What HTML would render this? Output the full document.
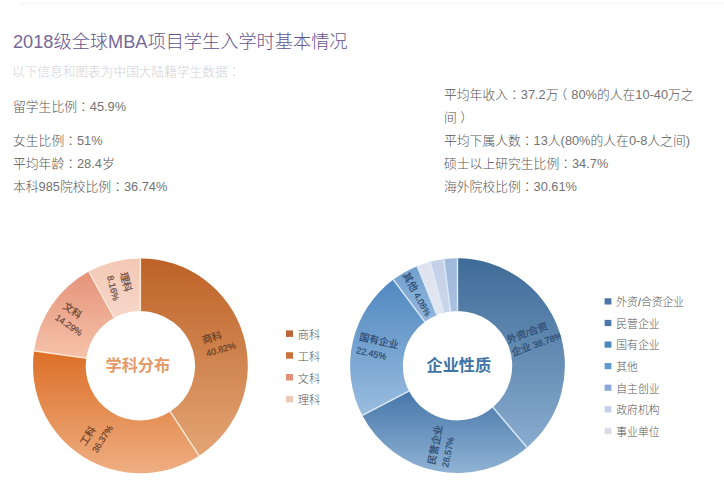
<!DOCTYPE html>
<html><head><meta charset="utf-8"><style>
html,body{margin:0;padding:0;background:#fff;}
body{width:724px;height:500px;overflow:hidden;position:relative;font-family:"Liberation Sans", "Noto Sans CJK SC", sans-serif;color:#555;}
.ch{position:absolute;left:0;top:0;}
.t{position:absolute;left:13px;top:26.6px;font-size:18.2px;color:#64548e;white-space:nowrap;font-weight:300;}
.s{position:absolute;left:12px;top:60.5px;font-size:12.7px;color:#d2d0d4;white-space:nowrap;font-weight:300;}
.c{position:absolute;font-size:12.8px;line-height:23px;white-space:nowrap;color:#555;font-weight:300;}
.n{color:#737373;}
.tn{color:#756899;}
.p{font-family:"Liberation Sans","Noto Sans CJK TC",sans-serif;}
</style></head><body>
<div style="position:absolute;left:20px;top:2px;width:704px;height:3px;background:#f9f9f9"></div>
<div class="t"><span class="tn">2018</span>级全球<span class="tn">MBA</span>项目学生入学时基本情况</div>
<div class="s">以下信息和图表为中国大陆籍学生数据<span class="p">：</span></div>
<div class="c" style="left:13px;top:95px">留学生比例<span class="p">：</span><span class="n">45.9%</span></div>
<div class="c" style="left:13px;top:128.8px">女生比例<span class="p">：</span><span class="n">51%</span><br>平均年龄<span class="p">：</span><span class="n">28.4</span>岁<br>本科<span class="n">985</span>院校比例<span class="p">：</span><span class="n">36.74%</span></div>
<div class="c" style="left:444px;top:82.8px">平均年收入<span class="p">：</span><span class="n">37.2</span>万<span class="p" style="position:relative;left:-4px">（</span><span class="n">80%</span>的人在<span class="n">10-40</span>万之<br>间<span class="p" style="position:relative;left:3.5px">）</span><br>平均下属人数<span class="p">：</span><span class="n">13</span>人<span class="n">(</span><span class="n">80%</span>的人在<span class="n">0-8</span>人之间<span class="n">)</span><br>硕士以上研究生比例<span class="p">：</span><span class="n">34.7%</span><br>海外院校比例<span class="p">：</span><span class="n">30.61%</span></div>
<svg class="ch" width="724" height="500" viewBox="0 0 724 500" font-family='"Liberation Sans", "Noto Sans CJK SC", sans-serif'>
<defs><linearGradient id="gl0" x1="0" y1="0" x2="0" y2="1"><stop offset="0" stop-color="#bd6227"/><stop offset="1" stop-color="#e3a575"/></linearGradient><linearGradient id="gl1" x1="0" y1="0" x2="0" y2="1"><stop offset="0" stop-color="#dc6f27"/><stop offset="1" stop-color="#eeae82"/></linearGradient><linearGradient id="gl2" x1="0" y1="0" x2="0" y2="1"><stop offset="0" stop-color="#e4937a"/><stop offset="1" stop-color="#f6c3aa"/></linearGradient><linearGradient id="gl3" x1="0" y1="0" x2="0" y2="1"><stop offset="0" stop-color="#f3c8b5"/><stop offset="1" stop-color="#f7d7ca"/></linearGradient><linearGradient id="gr0" x1="0" y1="0" x2="0" y2="1"><stop offset="0" stop-color="#3f6b98"/><stop offset="1" stop-color="#88acce"/></linearGradient><linearGradient id="gr1" x1="0" y1="0" x2="0" y2="1"><stop offset="0" stop-color="#4676a9"/><stop offset="1" stop-color="#90b3d4"/></linearGradient><linearGradient id="gr2" x1="0" y1="0" x2="0" y2="1"><stop offset="0" stop-color="#5088c0"/><stop offset="1" stop-color="#9abde0"/></linearGradient><linearGradient id="gr3" x1="0" y1="0" x2="0" y2="1"><stop offset="0" stop-color="#72a0ce"/><stop offset="1" stop-color="#92b6dc"/></linearGradient><linearGradient id="gr4" x1="0" y1="0" x2="0" y2="1"><stop offset="0" stop-color="#dde2ee"/><stop offset="1" stop-color="#e2e7f1"/></linearGradient><linearGradient id="gr5" x1="0" y1="0" x2="0" y2="1"><stop offset="0" stop-color="#c4d0e8"/><stop offset="1" stop-color="#ccd6eb"/></linearGradient><linearGradient id="gr6" x1="0" y1="0" x2="0" y2="1"><stop offset="0" stop-color="#9fb8dc"/><stop offset="1" stop-color="#aac0e0"/></linearGradient><clipPath id="k1"><circle cx="140.4" cy="365.8" r="107.4"/></clipPath><clipPath id="k2"><circle cx="457.5" cy="365.7" r="107.4"/></clipPath></defs>
<path d="M140.40,258.40 A107.4,107.4 0 0 1 199.05,455.77 L170.27,411.62 A54.7,54.7 0 0 0 140.40,311.10 Z" fill="url(#gl0)"/><path d="M199.05,455.77 A107.4,107.4 0 0 1 34.05,350.85 L86.23,358.19 A54.7,54.7 0 0 0 170.27,411.62 Z" fill="url(#gl1)"/><path d="M34.05,350.85 A107.4,107.4 0 0 1 88.82,271.59 L114.13,317.82 A54.7,54.7 0 0 0 86.23,358.19 Z" fill="url(#gl2)"/><path d="M88.82,271.59 A107.4,107.4 0 0 1 140.40,258.40 L140.40,311.10 A54.7,54.7 0 0 0 114.13,317.82 Z" fill="url(#gl3)"/><line x1="140.40" y1="312.10" x2="140.40" y2="257.40" stroke="#fbe9d8" stroke-width="1.4"/><line x1="169.73" y1="410.79" x2="199.60" y2="456.61" stroke="#fbe9d8" stroke-width="1.4"/><line x1="87.22" y1="358.33" x2="33.05" y2="350.71" stroke="#fbe9d8" stroke-width="1.4"/><line x1="114.61" y1="318.70" x2="88.34" y2="270.72" stroke="#fbe9d8" stroke-width="1.4"/>
<path d="M457.50,258.30 A107.4,107.4 0 0 1 527.10,447.50 L492.95,407.36 A54.7,54.7 0 0 0 457.50,311.00 Z" fill="url(#gr0)"/><path d="M527.10,447.50 A107.4,107.4 0 0 1 362.27,415.36 L409.00,390.99 A54.7,54.7 0 0 0 492.95,407.36 Z" fill="url(#gr1)"/><path d="M362.27,415.36 A107.4,107.4 0 0 1 393.29,279.61 L424.79,321.85 A54.7,54.7 0 0 0 409.00,390.99 Z" fill="url(#gr2)"/><path d="M393.29,279.61 A107.4,107.4 0 0 1 417.21,266.14 L436.98,314.99 A54.7,54.7 0 0 0 424.79,321.85 Z" fill="url(#gr3)"/><path d="M417.21,266.14 A107.4,107.4 0 0 1 430.27,261.81 L443.63,312.79 A54.7,54.7 0 0 0 436.98,314.99 Z" fill="url(#gr4)"/><path d="M430.27,261.81 A107.4,107.4 0 0 1 443.77,259.18 L450.51,311.45 A54.7,54.7 0 0 0 443.63,312.79 Z" fill="url(#gr5)"/><path d="M443.77,259.18 A107.4,107.4 0 0 1 457.50,258.30 L457.50,311.00 A54.7,54.7 0 0 0 450.51,311.45 Z" fill="url(#gr6)"/><line x1="457.50" y1="312.00" x2="457.50" y2="257.30" stroke="#dcebfa" stroke-width="1.4"/><line x1="492.30" y1="406.60" x2="527.74" y2="448.26" stroke="#dcebfa" stroke-width="1.4"/><line x1="409.88" y1="390.53" x2="361.38" y2="415.82" stroke="#dcebfa" stroke-width="1.4"/><line x1="425.39" y1="322.66" x2="392.69" y2="278.81" stroke="#dcebfa" stroke-width="1.4"/><line x1="437.36" y1="315.92" x2="416.84" y2="265.22" stroke="#dcebfa" stroke-width="1.4"/><line x1="443.88" y1="313.75" x2="430.01" y2="260.84" stroke="#dcebfa" stroke-width="1.4"/><line x1="450.64" y1="312.44" x2="443.64" y2="258.19" stroke="#dcebfa" stroke-width="1.4"/>
<g clip-path="url(#k1)"><g transform="translate(219.00,342.44) rotate(-16.55)" fill="#6a3f26" stroke="#6a3f26" stroke-width="0.2" font-size="9"><text x="-15.3" y="-3.2"><tspan font-size="10">商科</tspan></text><text x="-15.3" y="10.3"><tspan font-size="9">40.82%</tspan></text></g><g transform="translate(96.40,435.00) rotate(-57.55)" fill="#6a3f26" stroke="#6a3f26" stroke-width="0.2" font-size="9"><text x="-15.3" y="-3.2"><tspan font-size="10">工科</tspan></text><text x="-15.3" y="10.3"><tspan font-size="9">36.37%</tspan></text></g><g transform="translate(72.94,319.18) rotate(34.65)" fill="#6a4434" stroke="#6a4434" stroke-width="0.2" font-size="9"><text x="-15.3" y="-3.2"><tspan font-size="10">文科</tspan></text><text x="-15.3" y="10.3"><tspan font-size="9">14.29%</tspan></text></g><g transform="translate(120.08,286.36) rotate(75.65)" fill="#6a4a3e" stroke="#6a4a3e" stroke-width="0.2" font-size="9"><text x="-12.8" y="-3.2"><tspan font-size="10">理科</tspan></text><text x="-12.8" y="10.3"><tspan font-size="9">8.16%</tspan></text></g></g>
<g clip-path="url(#k2)"><g transform="translate(534.46,337.39) rotate(-20.20)" fill="#2c4a6e" stroke="#2c4a6e" stroke-width="0.2" font-size="9"><text x="-26.5" y="-3.2"><tspan font-size="10">外资</tspan><tspan font-size="9">/</tspan><tspan font-size="10">合资</tspan></text><text x="-26.5" y="10.3"><tspan font-size="10">企业</tspan><tspan font-size="9"> 38.78%</tspan></text></g><g transform="translate(441.81,446.18) rotate(-78.97)" fill="#2c4a6e" stroke="#2c4a6e" stroke-width="0.2" font-size="9"><text x="-20.0" y="-3.2"><tspan font-size="10">民营企业</tspan></text><text x="-20.0" y="10.3"><tspan font-size="9">28.57%</tspan></text></g><g transform="translate(377.56,347.44) rotate(12.87)" fill="#2c4a6e" stroke="#2c4a6e" stroke-width="0.2" font-size="9"><text x="-20.0" y="-3.2"><tspan font-size="10">国有企业</tspan></text><text x="-20.0" y="10.3"><tspan font-size="9">22.45%</tspan></text></g><g transform="translate(417.28,294.24) rotate(60.62)" fill="#2c4a6e" stroke="#2c4a6e" stroke-width="0.2" font-size="9"><text x="-24.0" y="3.6"><tspan font-size="10">其他</tspan><tspan font-size="9"> 4.08%</tspan></text></g></g>
<text x="105.5" y="370.5" font-size="16.2" fill="#e39a66" font-weight="bold">学科分布</text>
<text x="426.5" y="370.5" font-size="16.2" fill="#3f74a4" font-weight="bold">企业性质</text>
<rect x="286" y="330.4" width="7" height="6.5" fill="#b9673a"/><text x="297.8" y="338.9" font-size="11.2" fill="#555" font-weight="300">商科</text><rect x="286" y="352.2" width="7" height="6.5" fill="#c9713f"/><text x="297.8" y="360.7" font-size="11.2" fill="#555" font-weight="300">工科</text><rect x="286" y="374.0" width="7" height="6.5" fill="#e2907a"/><text x="297.8" y="382.5" font-size="11.2" fill="#555" font-weight="300">文科</text><rect x="286" y="395.8" width="7" height="6.5" fill="#eccabb"/><text x="297.8" y="404.3" font-size="11.2" fill="#555" font-weight="300">理科</text><rect x="604.6" y="298.3" width="6.8" height="6.2" fill="#4a75a3"/><text x="616.3" y="306.2" font-size="10.8" fill="#555" font-weight="300">外资/合资企业</text><rect x="604.6" y="319.9" width="6.8" height="6.2" fill="#4c79aa"/><text x="616.3" y="327.8" font-size="10.8" fill="#555" font-weight="300">民营企业</text><rect x="604.6" y="341.5" width="6.8" height="6.2" fill="#4d88bf"/><text x="616.3" y="349.4" font-size="10.8" fill="#555" font-weight="300">国有企业</text><rect x="604.6" y="363.0" width="6.8" height="6.2" fill="#5f9ad0"/><text x="616.3" y="370.9" font-size="10.8" fill="#555" font-weight="300">其他</text><rect x="604.6" y="384.6" width="6.8" height="6.2" fill="#8ea9d8"/><text x="616.3" y="392.5" font-size="10.8" fill="#555" font-weight="300">自主创业</text><rect x="604.6" y="406.2" width="6.8" height="6.2" fill="#c6cfe8"/><text x="616.3" y="414.1" font-size="10.8" fill="#555" font-weight="300">政府机构</text><rect x="604.6" y="427.8" width="6.8" height="6.2" fill="#d9dce4"/><text x="616.3" y="435.7" font-size="10.8" fill="#555" font-weight="300">事业单位</text>
</svg>
</body></html>
